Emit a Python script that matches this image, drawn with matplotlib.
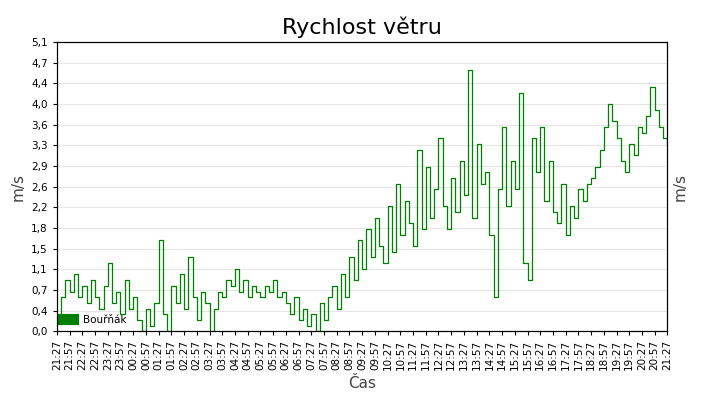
import matplotlib
matplotlib.use("Agg")
import matplotlib.pyplot as plt
import numpy as np

series_name = "Bouřňák"
speed = [0.2,0.6,0.9,0.7,1.0,0.6,
0.8,0.5,0.9,0.6,0.4,0.8,
1.2,0.5,0.7,0.3,0.9,0.4,
0.6,0.2,0.0,0.4,0.1,0.5,
1.6,0.3,0.0,0.8,0.5,1.0,
0.4,1.3,0.6,0.2,0.7,0.5,
0.0,0.4,0.7,0.6,0.9,0.8,
1.1,0.7,0.9,0.6,0.8,0.7,
0.6,0.8,0.7,0.9,0.6,0.7,
0.5,0.3,0.6,0.2,0.4,0.1,
0.3,0.0,0.5,0.2,0.6,0.8,
0.4,1.0,0.6,1.3,0.9,1.6,
1.1,1.8,1.3,2.0,1.5,1.2,
2.2,1.4,2.6,1.7,2.3,1.9,
1.5,3.2,1.8,2.9,2.0,2.5,
3.4,2.2,1.8,2.7,2.1,3.0,
2.4,4.6,2.0,3.3,2.6,2.8,
1.7,0.6,2.5,3.6,2.2,3.0,
2.5,4.2,1.2,0.9,3.4,2.8,
3.6,2.3,3.0,2.1,1.9,2.6,
1.7,2.2,2.0,2.5,2.3,2.6,
2.7,2.9,3.2,3.6,4.0,3.7,
3.4,3.0,2.8,3.3,3.1,3.6,
3.5,3.8,4.3,3.9,3.6,3.4,
3.3]
step_min = 10
start_h, start_m = 21, 27
y_ticks = [0.0,0.4,0.7,1.1,1.5,1.8,2.2,2.6,2.9,3.3,3.6,4.0,4.4,4.7,5.1]

x = np.arange(len(speed)) * step_min
xt = np.arange(0, 24*60 + 1, 30)
xl = []
for m in xt:
    t = start_h*60 + start_m + m
    xl.append(f"{(t//60)%24:02d}:{t%60:02d}")

fig = plt.figure(figsize=(7.2, 4.0), dpi=100)
ax = fig.add_axes([0.079, 0.172, 0.848, 0.723])
ax.plot(x, speed, color="#008000", lw=0.9, label=series_name, drawstyle="steps-post")
ax.set_xlim(0, 24*60)
ax.set_ylim(0, 5.1)
yt = np.linspace(0, 5.1, 15)
ax.set_yticks(yt)
ax.set_yticklabels([f"{v:.1f}".replace(".", ",") for v in y_ticks], fontsize=7.5)
ax.set_xticks(xt)
ax.set_xticklabels(xl, rotation=90, fontsize=7.5)
ax.grid(axis="y", color="#e6e6e6", lw=0.8)
ax.set_axisbelow(True)
ax.tick_params(axis="y", right=True, labelright=True, length=3)
ax.tick_params(axis="x", length=3)
ax.set_ylabel("m/s", fontsize=11, color="#444444")
ax2 = ax.twinx()
ax2.set_ylim(0, 5.1)
ax2.set_yticks([])
ax2.set_ylabel("m/s", fontsize=11, color="#444444")
ax.set_xlabel("Čas", fontsize=11, color="#444444")
ax.set_title("Rychlost větru", fontsize=16)
leg = ax.legend(loc="lower left", frameon=False, fontsize=7.5, handlelength=0.9,
                handleheight=0.9, handletextpad=1.0, borderaxespad=0.2)
for h in leg.legend_handles:
    h.set_linewidth(8)
fig.savefig("out.png")
